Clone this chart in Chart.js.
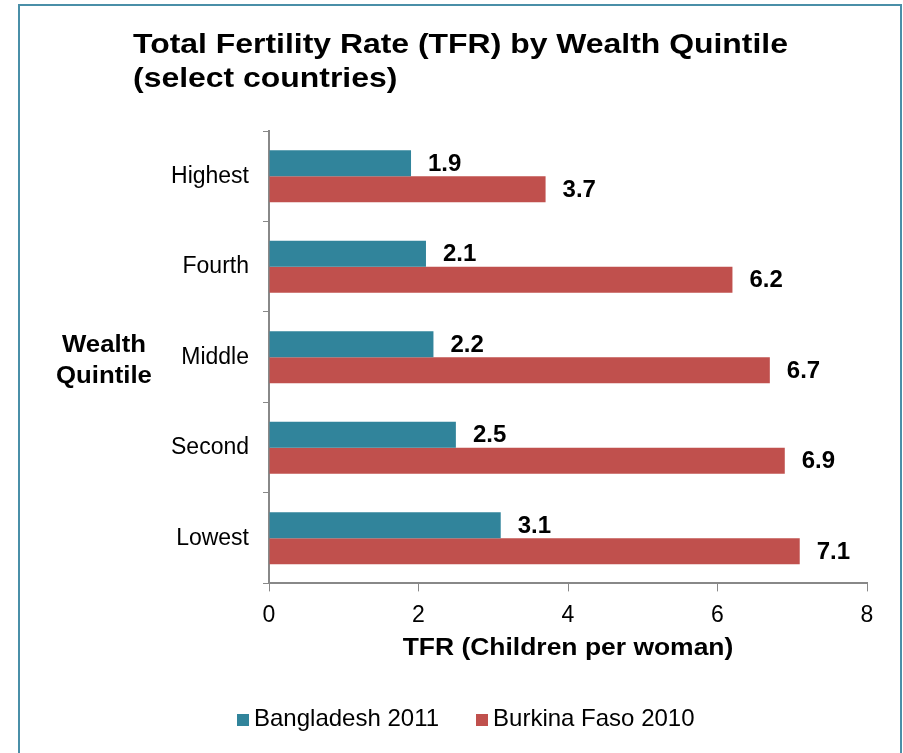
<!DOCTYPE html>
<html>
<head>
<meta charset="utf-8">
<script src="https://cdn.jsdelivr.net/npm/chart.js@4"></script>
<style>
  html, body { margin: 0; padding: 0; background: #fff; overflow: hidden; }
  #frame { position: absolute; left: 18px; top: 4px; width: 884px; height: 800px; box-sizing: border-box; border: 2px solid #4a8fa8; }
  #myChart { position: absolute; left: 0; top: 0; }
  #legend { position: absolute; left: 237px; top: 705px; font: 24px "Liberation Sans", Arial, sans-serif; line-height: 26px; color: #000; white-space: nowrap; }
  #legend span.item { margin-right: 37px; }
  #legend span.box { display: inline-block; width: 12px; height: 12px; margin-right: 5px; vertical-align: 0px; }
</style>
</head>
<body>
<div id="frame"></div>
<canvas id="myChart" width="903" height="753"></canvas>
<div id="legend"></div>
<script>
  var quintiles = ['Highest', 'Fourth', 'Middle', 'Second', 'Lowest'];
  var bangladesh2011 = [1.9, 2.1, 2.2, 2.5, 3.1];
  var burkinaFaso2010 = [3.7, 6.2, 6.7, 6.9, 7.1];
  var xTicks = [0, 2, 4, 6, 8];
  var titleLines = ['Total Fertility Rate (TFR) by Wealth Quintile', '(select countries)'];
  var yTitleLines = ['Wealth', 'Quintile'];
  var xTitle = 'TFR (Children per woman)';

  var font = '"Liberation Sans", Arial, sans-serif';
  var teal = '#31849b';
  var red = '#c0504d';

  // the reference text is a bit wider than Liberation Sans, so stretch it
  function wideText(ctx, text, x, y, sx, align) {
    ctx.save();
    ctx.translate(x, y);
    ctx.scale(sx, 1);
    ctx.textAlign = align;
    ctx.fillText(text, 0, 0);
    ctx.restore();
  }

  // title, value labels and the axis titles
  var labelsPlugin = {
    id: 'labels',
    afterDatasetsDraw: function(chart) {
      var ctx = chart.ctx;
      ctx.save();
      ctx.fillStyle = '#000';
      ctx.textBaseline = 'middle';
      ctx.textAlign = 'left';
      ctx.font = 'bold 24px ' + font;
      chart.data.datasets.forEach(function(ds, i) {
        chart.getDatasetMeta(i).data.forEach(function(bar, j) {
          ctx.fillText(ds.data[j].toFixed(1), bar.x + 17, bar.y + 1);
        });
      });

      ctx.textBaseline = 'alphabetic';
      ctx.font = 'bold 28px ' + font;
      wideText(ctx, titleLines[0], 133, 53, 1.14, 'left');
      wideText(ctx, titleLines[1], 133, 87, 1.14, 'left');

      var area = chart.chartArea;
      ctx.textBaseline = 'middle';
      ctx.font = 'bold 23px ' + font;
      var mid = (area.top + area.bottom) / 2;
      wideText(ctx, yTitleLines[0], 104, mid - 12, 1.12, 'center');
      wideText(ctx, yTitleLines[1], 104, mid + 19, 1.12, 'center');
      wideText(ctx, xTitle, (area.left + area.right) / 2, 649, 1.15, 'center');
      ctx.restore();
    }
  };

  var ctx = document.getElementById('myChart').getContext('2d');
  var chart = new Chart(ctx, {
    type: 'bar',
    data: {
      labels: quintiles,
      datasets: [
        {
          label: 'Bangladesh 2011',
          backgroundColor: teal,
          data: bangladesh2011,
          barPercentage: 1,
          categoryPercentage: 0.575
        },
        {
          label: 'Burkina Faso 2010',
          backgroundColor: red,
          data: burkinaFaso2010,
          barPercentage: 1,
          categoryPercentage: 0.575
        }
      ]
    },
    options: {
      indexAxis: 'y',
      responsive: false,
      animation: false,
      devicePixelRatio: 1,
      layout: {
        padding: { left: 133, right: 36, top: 131, bottom: 114 }
      },
      plugins: {
        legend: { display: false },
        tooltip: { enabled: false },
        title: { display: false }
      },
      scales: {
        x: {
          min: 0,
          max: 8,
          afterBuildTicks: function(scale) {
            scale.ticks = xTicks.map(function(v) { return { value: v }; });
          },
          grid: { drawOnChartArea: false, color: '#888', tickLength: 8 },
          border: { color: '#888', width: 2 },
          ticks: { color: '#000', padding: 10, font: { family: font, size: 23 } }
        },
        y: {
          afterFit: function(scale) { scale.width = 136; },
          grid: { offset: true, drawOnChartArea: false, color: '#888', tickLength: 6 },
          border: { color: '#888', width: 2 },
          ticks: { color: '#000', padding: 14, font: { family: font, size: 23 } }
        }
      }
    },
    plugins: [labelsPlugin]
  });

  // legend
  var legend = document.getElementById('legend');
  chart.data.datasets.forEach(function(ds) {
    var item = document.createElement('span');
    item.className = 'item';
    var box = document.createElement('span');
    box.className = 'box';
    box.style.background = ds.backgroundColor;
    item.appendChild(box);
    item.appendChild(document.createTextNode(ds.label));
    legend.appendChild(item);
  });
</script>
</body>
</html>
